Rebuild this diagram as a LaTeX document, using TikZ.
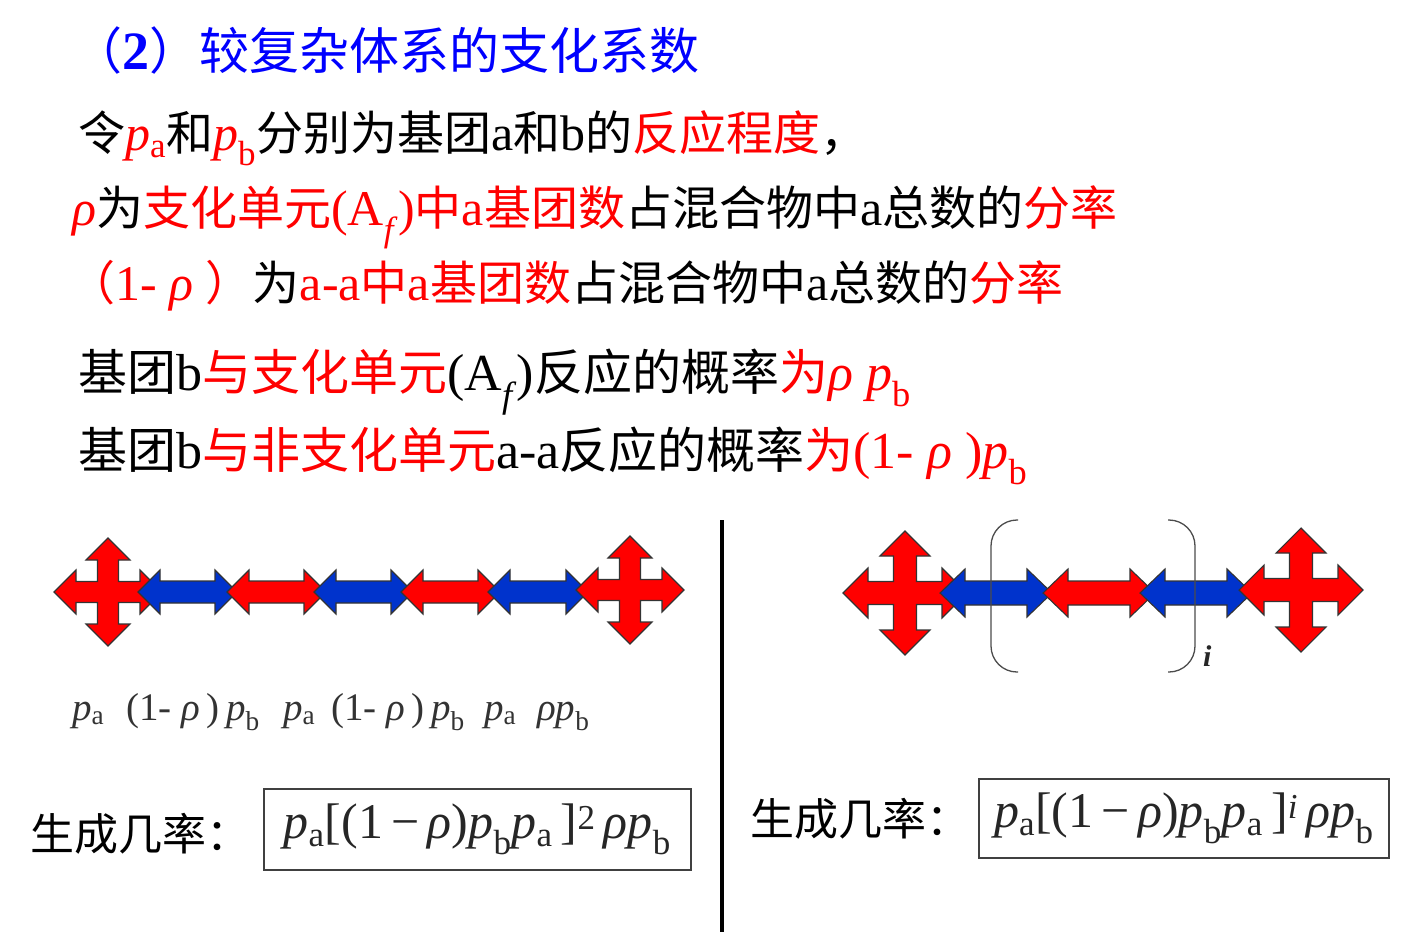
\documentclass[tikz,border=0pt]{standalone}
\usepackage{fontspec}
\usepackage{graphicx}
\setmainfont{Liberation Serif}
\newfontfamily\cjkfont{Noto Sans CJK SC}
\definecolor{myred}{RGB}{255,0,0}
\definecolor{myblue}{RGB}{0,51,204}
\definecolor{titleblue}{RGB}{0,0,255}
\newcommand{\zh}[1]{{\cjkfont\fontsize{47}{56}\selectfont #1}}
\newcommand{\zhb}[1]{{\cjkfont\fontsize{49}{58}\selectfont #1}}
\newcommand{\rd}[1]{\textcolor{myred}{#1}}
\newcommand{\vi}[1]{\textit{#1}}
\tikzset{
  arrowline/.style={draw=black!80, line width=1.1pt, line join=miter},
  pics/xcross/.style n args={5}{code={
    \path[arrowline, fill=#5] (#1,0) -- (#1-#4,#2) -- (#1-#4,#3) -- (#3,#3) -- (#3,#1-#4) -- (#2,#1-#4) -- (0,#1) -- (-#2,#1-#4) -- (-#3,#1-#4) -- (-#3,#3) -- (-#1+#4,#3) -- (-#1+#4,#2) -- (-#1,0) -- (-#1+#4,-#2) -- (-#1+#4,-#3) -- (-#3,-#3) -- (-#3,-#1+#4) -- (-#2,-#1+#4) -- (0,-#1) -- (#2,-#1+#4) -- (#3,-#1+#4) -- (#3,-#3) -- (#1-#4,-#3) -- (#1-#4,-#2) -- cycle;
  }},
  pics/dblarrow/.style n args={5}{code={
    \path[arrowline, fill=#5] (0,0) -- (#4,#2) -- (#4,#3) -- (#1-#4,#3) -- (#1-#4,#2) -- (#1,0) -- (#1-#4,-#2) -- (#1-#4,-#3) -- (#4,-#3) -- (#4,-#2) -- cycle;
  }},
  txt/.style={anchor=base west, inner sep=0pt, font=\fontsize{50}{60}\selectfont},
  txtb/.style={anchor=base west, inner sep=0pt, font=\fontsize{52}{60}\selectfont},
  zhtxt/.style={anchor=base west, inner sep=0pt, font=\fontsize{44}{52}\selectfont},
  lbl/.style={anchor=base west, inner sep=0pt, font=\fontsize{39}{44}\selectfont, text=black!80},
  fbox/.style={draw=black!75, line width=1.6pt, anchor=north west, inner sep=0pt},
  ftxt/.style={inner sep=0pt, font=\fontsize{50}{58}\selectfont\color{black!85}},
  bracketline/.style={draw=black!70, line width=1.3pt}
}
\begin{document}
\begin{tikzpicture}[x=1pt,y=-1pt]
\useasboundingbox[fill=white] (0,0) rectangle (1407,932);
% title
\node[anchor=base west, inner sep=0pt, text=titleblue, font=\fontsize{50}{58}\selectfont] (title) at (72,69)
  {{\cjkfont （}\textbf{\fontsize{54}{60}\selectfont 2}{\cjkfont ）较复杂体系的支化系数}};
% text lines
\node[txt] (l1) at (78,150) {\zh{令}\rd{\vi{p}\textsubscript{a}}\zh{和}\rd{\vi{p}\textsubscript{b}}\zh{分别为基团}a\zh{和}b\zh{的}\rd{\zh{反应程度}}\zh{，}};
\node[txt] (l2) at (72,225) {\rd{\vi{ρ}}\zh{为}\rd{\zh{支化单元}(A\textsubscript{\vi{f}})\zh{中}a\zh{基团数}}\zh{占混合物中}a\zh{总数的}\rd{\zh{分率}}};
\node[txt] (l3) at (68,300) {\rd{\zh{（}1- \vi{ρ} \zh{）}}\zh{为}\rd{a-a\zh{中}a\zh{基团数}}\zh{占混合物中}a\zh{总数的}\rd{\zh{分率}}};
\node[txtb] (l4) at (78,390) {\zhb{基团}b\rd{\zhb{与支化单元}}(A\textsubscript{\vi{f}})\zhb{反应的概率}\rd{\zhb{为}\vi{ρ p}\textsubscript{b}}};
\node[txtb] (l5) at (78,468) {\zhb{基团}b\rd{\zhb{与非支化单元}}a-a\zhb{反应的概率}\rd{\zhb{为}(1- \vi{ρ} )\vi{p}\textsubscript{b}}};
% divider
\draw[line width=4pt] (722,520) -- (722,932);
% left chain
\pic at (108,592) {xcross={54}{22}{10.5}{22}{myred}};
\pic at (138,592) {dblarrow={99}{22}{11}{22}{myblue}};
\pic at (227,592) {dblarrow={99}{22}{11}{22}{myred}};
\pic at (314,592) {dblarrow={99}{22}{11}{22}{myblue}};
\pic at (401,592) {dblarrow={99}{22}{11}{22}{myred}};
\pic at (488,592) {dblarrow={100}{22}{11}{22}{myblue}};
\pic at (630,590) {xcross={54}{22}{10.5}{22}{myred}};
\node[lbl] (lb1) at (72,720) {\vi{p}\textsubscript{a}};
\node[lbl] (lb2) at (126,720) {(1- \vi{ρ}\,)\,\vi{p}\textsubscript{b}};
\node[lbl] (lb3) at (283,720) {\vi{p}\textsubscript{a}};
\node[lbl] (lb4) at (331,720) {(1- \vi{ρ}\,)\,\vi{p}\textsubscript{b}};
\node[lbl] (lb5) at (484,720) {\vi{p}\textsubscript{a}};
\node[lbl] (lb6) at (537,720) {\vi{ρp}\textsubscript{b}};
% right chain
\pic at (905,593) {xcross={62}{25}{11.5}{25}{myred}};
\pic at (940,593) {dblarrow={112}{24}{12}{25}{myblue}};
\pic at (1043,593) {dblarrow={112}{24}{12}{25}{myred}};
\pic at (1140,593) {dblarrow={112}{24}{12}{25}{myblue}};
\pic at (1301,590) {xcross={62}{25}{11.5}{25}{myred}};
\draw[bracketline, rounded corners=26pt] (1018,520) -- (991,520) -- (991,672) -- (1018,672);
\draw[bracketline, rounded corners=26pt] (1168,520) -- (1195,520) -- (1195,672) -- (1168,672);
\node[anchor=base west, inner sep=0pt, font=\fontsize{30}{36}\selectfont\bfseries\itshape, text=black!85] (iexp) at (1203,666) {i};
% formulas
\node[zhtxt] (genL) at (30,850) {{\cjkfont 生成几率：}};
\node[fbox, minimum width=427pt, minimum height=81pt] (boxL) at (263,788) {};
\node[ftxt] (formL) at (boxL.center) {\vi{p}\textsubscript{a}[(1\,−\,\vi{ρ})\vi{p}\textsubscript{b}\vi{p}\textsubscript{a}\,]\textsuperscript{2}\,\vi{ρp}\textsubscript{b}};
\node[zhtxt] (genR) at (750,835) {{\cjkfont 生成几率：}};
\node[fbox, minimum width=410pt, minimum height=79pt] (boxR) at (978,778) {};
\node[ftxt] (formR) at (boxR.center) {\vi{p}\textsubscript{a}[(1\,−\,\vi{ρ})\vi{p}\textsubscript{b}\vi{p}\textsubscript{a}\,]\textsuperscript{\vi{i}}\,\vi{ρp}\textsubscript{b}};
\end{tikzpicture}
\end{document}
